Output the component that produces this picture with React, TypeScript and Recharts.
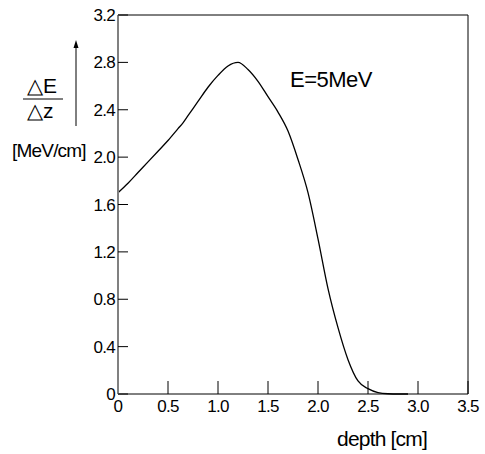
import React from 'react';
import { LineChart, Line, XAxis, YAxis } from 'recharts';

// depth in cm, stopping power in MeV/cm
const depth = [0, 0.1, 0.2, 0.3, 0.4, 0.5, 0.6, 0.65, 0.7, 0.8, 0.9, 1.0, 1.1, 1.2, 1.3, 1.4, 1.5, 1.6, 1.7, 1.8, 1.9, 2.0, 2.1, 2.2, 2.3, 2.4, 2.5, 2.6, 2.7, 2.8, 2.9];
const dEdz = [1.7, 1.78, 1.87, 1.96, 2.05, 2.14, 2.24, 2.29, 2.35, 2.47, 2.59, 2.69, 2.77, 2.8, 2.74, 2.64, 2.51, 2.38, 2.22, 1.98, 1.7, 1.31, 0.89, 0.56, 0.29, 0.11, 0.045, 0.012, 0.002, 0, 0];

const xTicks = [0, 0.5, 1.0, 1.5, 2.0, 2.5, 3.0, 3.5];
const yTicks = [0, 0.4, 0.8, 1.2, 1.6, 2.0, 2.4, 2.8, 3.2];

const FONT = '"Liberation Sans", Arial, sans-serif';

const data = depth.map((d, i) => ({ depth: d, value: dEdz[i] }));

const fmt = (v: number) => (v === 0 ? '0' : v.toFixed(1));

const tickFont = { fontSize: 17, fill: '#000', fontFamily: FONT, letterSpacing: -0.7 };

export default function App() {
  return (
    <div style={{ position: 'absolute', left: 0, top: 0, width: 485, height: 454, background: '#fff' }}>
      <LineChart width={485} height={454} data={data} margin={{ top: 0, right: 0, left: 0, bottom: 0 }}>
        <XAxis
          dataKey="depth"
          type="number"
          domain={[0, 3.5]}
          ticks={xTicks}
          tickFormatter={fmt}
          height={60}
          tickSize={-13}
          tickMargin={19}
          axisLine={{ stroke: '#000', strokeWidth: 1 }}
          tickLine={{ stroke: '#000' }}
          tick={tickFont}
          interval={0}
        />
        <XAxis
          xAxisId="top"
          orientation="top"
          dataKey="depth"
          type="number"
          domain={[0, 3.5]}
          ticks={xTicks}
          height={15}
          tickSize={-12}
          axisLine={{ stroke: '#000', strokeWidth: 1 }}
          tickLine={{ stroke: '#000' }}
          tick={false}
          interval={0}
        />
        <YAxis
          type="number"
          domain={[0, 3.2]}
          ticks={yTicks}
          tickFormatter={fmt}
          width={118}
          tickSize={-10}
          tickMargin={13}
          axisLine={{ stroke: '#808080', strokeWidth: 2 }}
          tickLine={{ stroke: '#000' }}
          tick={tickFont}
          interval={0}
        />
        <YAxis
          yAxisId="right"
          orientation="right"
          type="number"
          domain={[0, 3.2]}
          ticks={yTicks}
          width={17}
          tickSize={-12}
          axisLine={{ stroke: '#000', strokeWidth: 1 }}
          tickLine={{ stroke: '#000' }}
          tick={false}
          interval={0}
        />
        <Line
          type="monotone"
          dataKey="value"
          stroke="#000"
          strokeWidth={1.3}
          dot={false}
          isAnimationActive={false}
        />
      </LineChart>
      <svg
        width={485}
        height={454}
        style={{ position: 'absolute', left: 0, top: 0, pointerEvents: 'none' }}
        fontFamily={FONT}
      >
        <text x={27} y={93} fontSize={21}>△E</text>
        <line x1={23} x2={63} y1={99} y2={99} stroke="#000" strokeWidth={1} />
        <text x={27} y={118} fontSize={21}>△z</text>
        <line x1={76} x2={76} y1={126} y2={46} stroke="#000" strokeWidth={1} />
        <path d="M76,40 L73.5,48 L78.5,48 Z" fill="#000" />
        <text x={12} y={157} fontSize={19} letterSpacing={-0.8}>[MeV/cm]</text>
        <text x={290} y={87} fontSize={22} letterSpacing={-0.5}>E=5MeV</text>
        <text x={337} y={446} fontSize={21} letterSpacing={-0.8}>depth [cm]</text>
      </svg>
    </div>
  );
}
